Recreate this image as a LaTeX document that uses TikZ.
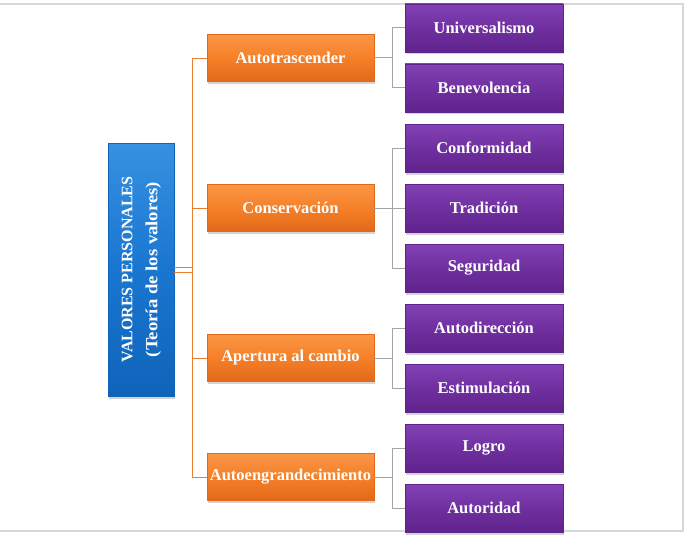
\documentclass[tikz,border=0pt]{standalone}
\usepackage{fontspec}
\setmainfont{Liberation Serif}
\usetikzlibrary{shadows}
\definecolor{orng}{RGB}{245,128,40}
\definecolor{orngL}{RGB}{250,150,70}
\definecolor{orngD}{RGB}{225,105,25}
\definecolor{purp}{RGB}{112,48,160}
\definecolor{purpL}{RGB}{130,65,180}
\definecolor{purpD}{RGB}{95,35,140}
\definecolor{blu}{RGB}{25,118,208}
\definecolor{bluL}{RGB}{55,145,225}
\definecolor{bluD}{RGB}{15,100,185}
\definecolor{olink}{RGB}{237,125,49}
\definecolor{glink}{RGB}{165,165,165}
\definecolor{frm}{RGB}{215,215,215}
\begin{document}
\begin{tikzpicture}[x=1pt,y=-1pt,
  boxbase/.style={rectangle, inner sep=0pt, font=\fontsize{16.5}{19}\selectfont\bfseries, text=white,
    drop shadow={opacity=0.35, shadow xshift=1pt, shadow yshift=-2.5pt}},
  obox/.style={boxbase, minimum width=167pt, minimum height=47pt, top color=orngL, bottom color=orngD, middle color=orng, draw=orngD, line width=0.4pt},
  pbox/.style={boxbase, minimum width=158pt, minimum height=48pt, top color=purpL, bottom color=purpD, middle color=purp, draw=purpD, line width=0.4pt},
  rbox/.style={boxbase, minimum width=66pt, minimum height=253pt, top color=bluL, bottom color=bluD, middle color=blu, draw=bluD, line width=0.4pt},
  olinkst/.style={draw=olink, line width=0.9pt},
  glinkst/.style={draw=glink, line width=1pt}]
\useasboundingbox (0,0) rectangle (686,535);
% frame
\draw[frm, line width=1.3pt] (0,4) -- (683,4) -- (683,531) -- (0,531);

\node[rbox] (root) at (141,269.5) {\rotatebox{90}{\begin{tabular}{@{}c@{}}\fontsize{16}{16}\selectfont\bfseries VALORES PERSONALES\\[6pt]\scalebox{1.1}[1]{\fontsize{17}{17}\selectfont\bfseries(Teoría de los valores)}\end{tabular}}};

\node[obox] (o1) at (290.5,58) {Autotrascender};
\node[obox] (o2) at (290.5,208) {Conservación};
\node[obox] (o3) at (290.5,358) {Apertura al cambio};
\node[obox] (o4) at (290.5,477) {Autoengrandecimiento};

\node[pbox] (p1) at (484,28) {Universalismo};
\node[pbox] (p2) at (484,88) {Benevolencia};
\node[pbox] (p3) at (484,148) {Conformidad};
\node[pbox] (p4) at (484,208) {Tradición};
\node[pbox] (p5) at (484,268) {Seguridad};
\node[pbox] (p6) at (484,328) {Autodirección};
\node[pbox] (p7) at (484,388) {Estimulación};
\node[pbox] (p8) at (484,448) {Logro};
\node[pbox] (p9) at (484,508) {Autoridad};

\coordinate (t) at (192,0);
\coordinate (g) at (392,0);

% orange trunk
\draw[olinkst] ([yshift=-2.5pt]root.east) -- ([yshift=-2.5pt]root.east -| t);
\draw[olinkst] ([yshift=2.5pt]root.east) -- ([yshift=2.5pt]root.east -| t);
\draw[olinkst] (o1.west -| t) -- (o4.west -| t);
\foreach \o in {o1,o2,o3,o4} \draw[olinkst] (\o.west -| t) -- (\o.west);
% gray connectors
\draw[glinkst] (o1.east) -- (o1.east -| g);
\draw[glinkst] (p1.west -| g) -- (p2.west -| g);
\draw[glinkst] (o2.east) -- (o2.east -| g);
\draw[glinkst] (p3.west -| g) -- (p5.west -| g);
\draw[glinkst] (o3.east) -- (o3.east -| g);
\draw[glinkst] (p6.west -| g) -- (p7.west -| g);
\draw[glinkst] (o4.east) -- (o4.east -| g);
\draw[glinkst] (p8.west -| g) -- (p9.west -| g);
\foreach \p in {p1,p2,p3,p4,p5,p6,p7,p8,p9} \draw[glinkst] (\p.west -| g) -- (\p.west);
\end{tikzpicture}
\end{document}
